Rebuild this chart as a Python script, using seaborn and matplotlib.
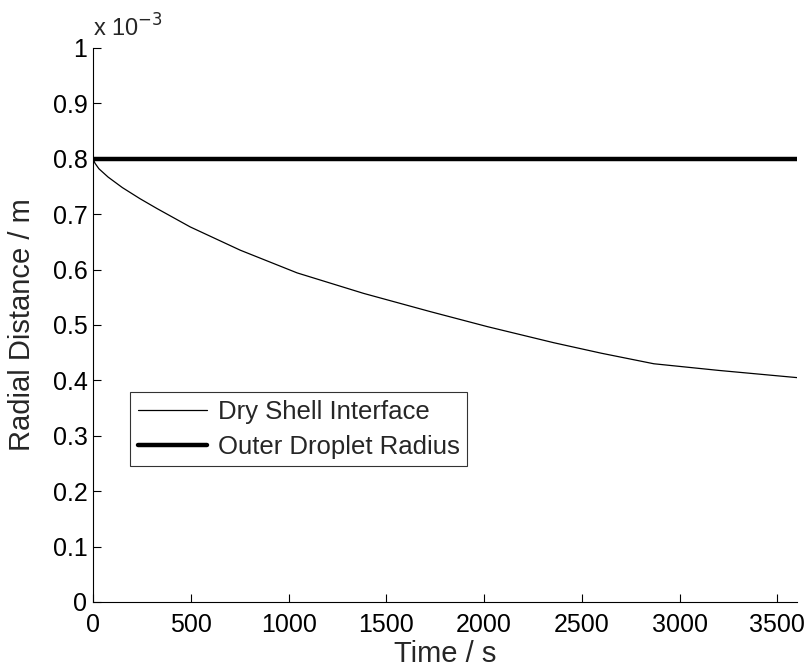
import numpy as np
import pandas as pd
import matplotlib
matplotlib.use("Agg")
import matplotlib.pyplot as plt
import seaborn as sns
from matplotlib.ticker import FuncFormatter, MultipleLocator

# Drying simulation results
time_s = [0, 10, 30, 77, 150, 240, 328, 497, 753, 1044, 1384, 1726, 2017,
          2356, 2600, 2868, 3200, 3600]
shell_radius_mm = [0.800, 0.792, 0.782, 0.767, 0.748, 0.728, 0.710, 0.677, 0.635,
                   0.594, 0.557, 0.524, 0.497, 0.468, 0.449, 0.430, 0.418, 0.405]
outer_time_s = [0, 3600]
outer_radius_mm = [0.800, 0.800]

shell = pd.DataFrame({"t": time_s, "r": np.array(shell_radius_mm) * 1e-3})
outer = pd.DataFrame({"t": outer_time_s, "r": np.array(outer_radius_mm) * 1e-3})

sns.set_style("ticks")
plt.rcParams["font.family"] = ["Liberation Sans", "DejaVu Sans"]

fig = plt.figure(figsize=(8.11, 6.70), dpi=100)
ax = fig.add_axes([0.1147, 0.1015, 0.868, 0.8269])

sns.lineplot(data=shell, x="t", y="r", ax=ax, color="black", linewidth=0.9,
             label="Dry Shell Interface", estimator=None, sort=False,
             solid_joinstyle="round")
sns.lineplot(data=outer, x="t", y="r", ax=ax, color="black", linewidth=3.2,
             label="Outer Droplet Radius", estimator=None, sort=False)

ax.set_xlim(0, 3600)
ax.set_ylim(0, 1e-3)
ax.xaxis.set_major_locator(MultipleLocator(500))
ax.yaxis.set_major_locator(MultipleLocator(1e-4))
ax.yaxis.set_major_formatter(FuncFormatter(lambda v, p: f"{v * 1e3:g}"))

for s in ["top", "right"]:
    ax.spines[s].set_visible(False)
for s in ["left", "bottom"]:
    ax.spines[s].set_linewidth(0.8)
    ax.spines[s].set_color("black")

ax.tick_params(direction="in", length=6, width=0.8, labelsize=18, colors="black")
ax.tick_params(axis="x", pad=8)
ax.tick_params(axis="y", pad=4)

ax.set_xlabel("Time / s", fontsize=21, labelpad=2)
ax.set_ylabel("Radial Distance / m", fontsize=21, labelpad=12)

ax.text(0.0, 1.012, r"x 10$^{-3}$", transform=ax.transAxes, fontsize=17,
        ha="left", va="bottom")

leg = ax.legend(loc="lower left", bbox_to_anchor=(0.053, 0.245), borderaxespad=0,
                fontsize=18.5, frameon=True, fancybox=False, handlelength=2.7,
                handletextpad=0.4, borderpad=0.3, labelspacing=0.42)
leg.get_frame().set_edgecolor("black")
leg.get_frame().set_linewidth(0.8)

fig.savefig("out.png", dpi=100, facecolor="white")
